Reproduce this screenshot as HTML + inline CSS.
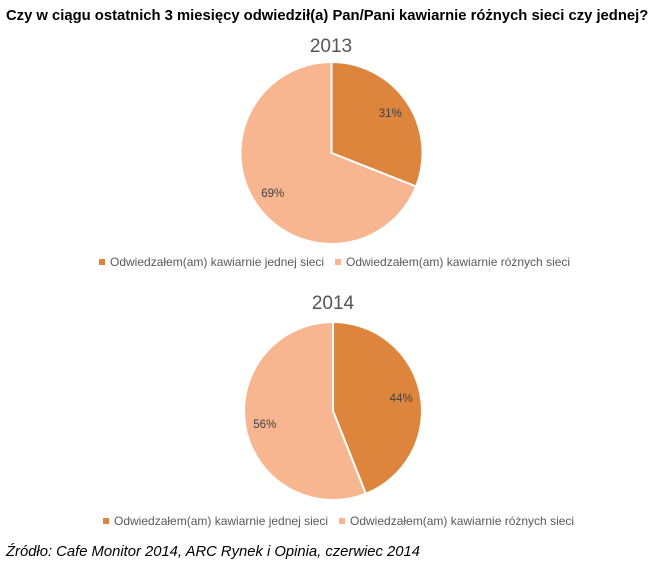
<!DOCTYPE html>
<html><head><meta charset="utf-8"><style>
body{margin:0;background:#fff;width:655px;height:568px;overflow:hidden;font-family:"Liberation Sans",sans-serif}
</style></head><body>
<svg width="655" height="568" id="svg">
<text x="6" y="20" font-family="Liberation Sans, sans-serif" font-weight="bold" font-size="14.8" fill="#000">Czy w ciągu ostatnich 3 miesięcy odwiedził(a) Pan/Pani kawiarnie różnych sieci czy jednej?</text>
<text x="331" y="52" text-anchor="middle" font-size="19" fill="#555">2013</text>
<text x="333" y="309" text-anchor="middle" font-size="19" fill="#555">2014</text>
<g>
<rect x="99" y="259" width="6" height="6" fill="#DE853D"/>
<text x="110" y="266" font-size="12" fill="#595959">Odwiedzałem(am) kawiarnie jednej sieci</text>
<rect x="335" y="259" width="6" height="6" fill="#F8B690"/>
<text x="346" y="266" font-size="12" fill="#595959">Odwiedzałem(am) kawiarnie różnych sieci</text>
</g>
<g>
<rect x="103" y="518" width="6" height="6" fill="#DE853D"/>
<text x="114" y="525" font-size="12" fill="#595959">Odwiedzałem(am) kawiarnie jednej sieci</text>
<rect x="339" y="518" width="6" height="6" fill="#F8B690"/>
<text x="350" y="525" font-size="12" fill="#595959">Odwiedzałem(am) kawiarnie różnych sieci</text>
</g>
<text x="6" y="556" font-style="italic" font-size="14.8" fill="#000">Źródło: Cafe Monitor 2014, ARC Rynek i Opinia, czerwiec 2014</text>
</svg>
<script>
const years = ["2013","2014"];
const jednej = [31, 44];
const roznych = [69, 56];
const colors = ["#DE853D","#F8B690"];
const centers = [[331.5,153,91],[333,411,89]];
const svg = document.getElementById('svg');
const NS = "http://www.w3.org/2000/svg";
years.forEach((y,i)=>{
  const [cx,cy,r] = centers[i];
  const vals = [jednej[i], roznych[i]];
  const total = vals[0]+vals[1];
  let a0 = -Math.PI/2;
  vals.forEach((v,k)=>{
    const a1 = a0 + v/total*2*Math.PI;
    const large = (a1-a0)>Math.PI?1:0;
    const p = document.createElementNS(NS,'path');
    const x0=cx+r*Math.cos(a0), y0=cy+r*Math.sin(a0), x1=cx+r*Math.cos(a1), y1=cy+r*Math.sin(a1);
    p.setAttribute('d',`M${cx},${cy} L${x0},${y0} A${r},${r} 0 ${large} 1 ${x1},${y1} Z`);
    p.setAttribute('fill',colors[k]);
    p.setAttribute('stroke','#fff');
    p.setAttribute('stroke-width','2');
    
    
    svg.appendChild(p);
    const am=(a0+a1)/2;
    const t=document.createElementNS(NS,'text');
    t.setAttribute('x',cx+r*0.78*Math.cos(am));
    t.setAttribute('y',cy+r*0.78*Math.sin(am)+4);
    t.setAttribute('text-anchor','middle');
    t.setAttribute('font-size','11.5');
    t.setAttribute('fill','#404040');
    t.textContent=v+'%';
    
    
    svg.appendChild(t);
    a0=a1;
  });
});
</script>
</body></html>
